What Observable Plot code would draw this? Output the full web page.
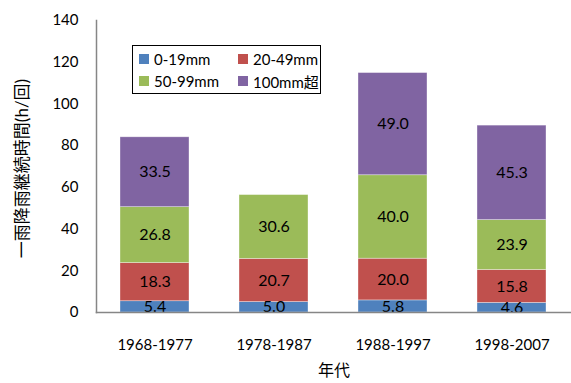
<!DOCTYPE html>
<html>
<head>
<meta charset="utf-8">
<script src="https://cdn.jsdelivr.net/npm/d3@7"></script>
<script src="https://cdn.jsdelivr.net/npm/@observablehq/plot@0.6"></script>
<style>
  html, body { margin: 0; padding: 0; background: #fff; }
  #chart { position: relative; width: 571px; height: 383px; font-family: Lato, "Noto Sans CJK JP", sans-serif; }
  #legend {
    position: absolute; left: 132px; top: 45px; width: 187px; height: 45px;
    border: 1.5px solid #000; background: #fff; font-size: 15px; color: #000;
    display: grid; grid-template-columns: 99px 88px; grid-template-rows: 22px 22px;
    padding-top: 2px; box-sizing: content-box;
  }
  #legend .item { display: flex; align-items: center; padding-left: 6px; white-space: nowrap; }
  #legend .sw { width: 10px; height: 10px; margin-right: 5px; flex: none; }
</style>
</head>
<body>
<div id="chart"></div>
<script>
// Periods (x categories) and rainfall-intensity classes (stack series)
const periods = ["1968-1977", "1978-1987", "1988-1997", "1998-2007"];
const ranges = ["0-19mm", "20-49mm", "50-99mm", "100mm超"];
const colors = ["#4F81BD", "#C0504D", "#9BBB59", "#8064A2"];

// Hours per event for each class, by period
const v0to19 = [5.4, 5.0, 5.8, 4.6];
const v20to49 = [18.3, 20.7, 20.0, 15.8];
const v50to99 = [26.8, 30.6, 40.0, 23.9];
const v100plus = [33.5, 0, 49.0, 45.3];

const yTicks = [0, 20, 40, 60, 80, 100, 120, 140];

const series = [v0to19, v20to49, v50to99, v100plus];
const data = [];
ranges.forEach((r, i) => {
  periods.forEach((p, j) => {
    data.push({period: p, range: r, value: series[i][j]});
  });
});

const font = 'Lato, "Noto Sans CJK JP", sans-serif';

const plot = Plot.plot({
  width: 571,
  height: 383,
  marginLeft: 96,
  marginRight: 0,
  marginTop: 20,
  marginBottom: 71,
  style: {fontFamily: font, fontSize: "15px", color: "#000", background: "#fff"},
  x: {domain: periods, paddingInner: 0.42, paddingOuter: 0.2},
  y: {domain: [0, 140]},
  color: {domain: ranges, range: colors},
  marks: [
    Plot.barY(data, {x: "period", y: "value", fill: "range", stroke: "#fff", strokeOpacity: 0.5, strokeWidth: 0.7}),
    Plot.text(data, Plot.stackY({
      x: "period", y: "value", z: "range",
      text: d => d.value.toFixed(1),
      filter: d => d.value > 0,
      fill: "#000", fontSize: 16
    })),
    Plot.axisY({ticks: yTicks, tickSize: 0, tickPadding: 18, fontSize: 15, label: null}),
    Plot.text(["一雨降雨継続時間(h/回)"], {
      frameAnchor: "left", textAnchor: "middle", dx: -74, dy: 2, rotate: -90, fontSize: 17, fill: "#000"
    }),
    Plot.axisX({tickSize: 0, tickPadding: 27, fontSize: 15, label: null}),
    Plot.text(["年代"], {
      frameAnchor: "bottom", dy: 63, fontSize: 16, fill: "#000"
    }),
    Plot.frame({anchor: "left", stroke: "#868686", strokeWidth: 1.5}),
    Plot.frame({anchor: "bottom", stroke: "#868686", strokeWidth: 1.5})
  ]
});

const chart = document.getElementById("chart");
chart.appendChild(plot);

// Legend box overlaid on the plot area
const legend = document.createElement("div");
legend.id = "legend";
ranges.forEach((r, i) => {
  const item = document.createElement("div");
  item.className = "item";
  const sw = document.createElement("span");
  sw.className = "sw";
  sw.style.background = colors[i];
  item.appendChild(sw);
  item.appendChild(document.createTextNode(r));
  legend.appendChild(item);
});
chart.appendChild(legend);
</script>
</body>
</html>
